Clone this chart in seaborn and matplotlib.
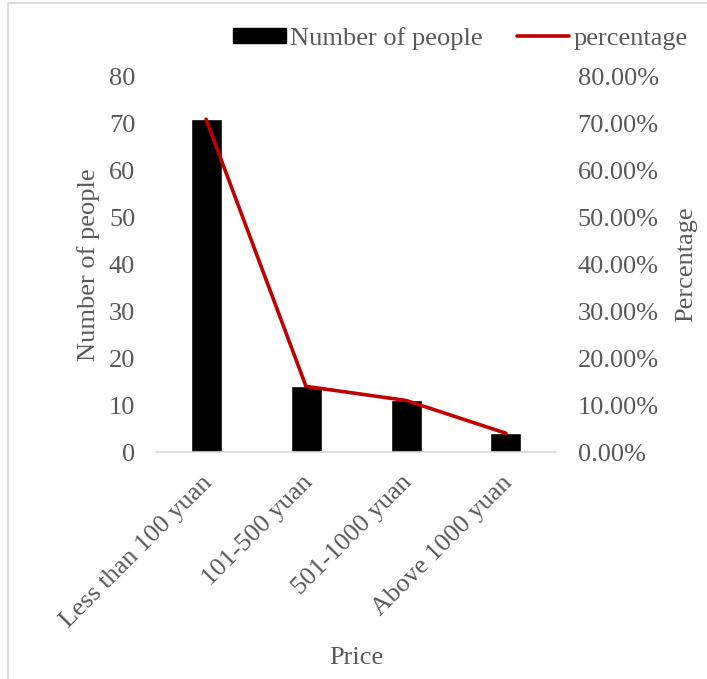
import matplotlib
matplotlib.use("Agg")
import matplotlib.pyplot as plt
from matplotlib.ticker import FuncFormatter
from matplotlib.patches import Rectangle
from matplotlib.lines import Line2D
from matplotlib.transforms import ScaledTranslation
import numpy as np
import pandas as pd
import seaborn as sns

# Survey results by price range
categories = ["Less than 100 yuan", "101-500 yuan", "501-1000 yuan", "Above 1000 yuan"]
people = [71, 14, 11, 4]
percentage = [0.71, 0.14, 0.11, 0.04]

sns.set_theme(style="white")
plt.rcParams["font.family"] = ["Liberation Serif", "DejaVu Serif"]

TEXT = "#595959"
RED = "#C00000"
FS = 19

df = pd.DataFrame({"Price": categories, "people": people,
                   "pos": np.arange(len(categories)), "pct": percentage})

fig = plt.figure(figsize=(7.07, 6.79), dpi=100)
ax = fig.add_axes([0.2207, 0.3343, 0.5657, 0.5523])

sns.barplot(data=df, x="Price", y="people", color="black", width=0.31,
            saturation=1, ax=ax)
ax.set_ylim(0, 80)
ax.set_xlim(-0.5, 3.5)
ax.set_yticks(np.arange(0, 81, 10))

ax2 = ax.twinx()
sns.lineplot(data=df, x="pos", y="pct", color=RED, linewidth=2.6,
             ax=ax2, legend=False)
ax2.set_ylim(0, 0.8)
ax2.set_yticks(np.arange(0, 0.81, 0.1))
ax2.yaxis.set_major_formatter(FuncFormatter(lambda v, _: f"{v*100:.2f}%"))
ax2.set_xlim(-0.5, 3.5)

for a in (ax, ax2):
    for s in a.spines.values():
        s.set_visible(False)
    a.tick_params(length=0, labelsize=FS, colors=TEXT)
ax.spines["bottom"].set_visible(True)
ax.spines["bottom"].set_color("#D9D9D9")
ax.spines["bottom"].set_linewidth(1.2)

ax.tick_params(axis="y", pad=15)
ax2.tick_params(axis="y", pad=15.5)
ax.tick_params(axis="x", pad=14)
shift = ScaledTranslation(-5 / 100, 0, fig.dpi_scale_trans)
for lbl in ax.get_xticklabels():
    lbl.set_rotation(45)
    lbl.set_ha("right")
    lbl.set_rotation_mode("anchor")
    lbl.set_transform(lbl.get_transform() + shift)

ax.set_xlabel("Price", fontsize=FS, color=TEXT)
ax.set_ylabel("Number of people", fontsize=FS, color=TEXT)
ax2.set_ylabel("Percentage", fontsize=FS, color=TEXT)
ax.xaxis.set_label_coords(0.5, -0.549)
ax.xaxis.label.set_va("center")
ax.yaxis.set_label_coords(-0.17, 0.5)
ax.yaxis.label.set_va("center")
ax2.yaxis.set_label_coords(1.325, 0.5)
ax2.yaxis.label.set_va("center")

handles = [Rectangle((0, 0), 1, 1, color="black"),
           Line2D([0], [0], color=RED, linewidth=2.6)]
leg = fig.legend(handles, ["Number of people", "percentage"], loc="center",
                 bbox_to_anchor=(0.651, 0.944), ncol=2, frameon=False,
                 fontsize=FS, handlelength=2.0, handleheight=0.5,
                 handletextpad=0.15, columnspacing=1.3)
for t in leg.get_texts():
    t.set_color(TEXT)

# light border around the chart area
fig.add_artist(Rectangle((0.012, -0.01), 1.0, 1.006, transform=fig.transFigure,
                         fill=False, edgecolor="#D9D9D9", linewidth=1.2))

fig.savefig("out.png", dpi=100)
